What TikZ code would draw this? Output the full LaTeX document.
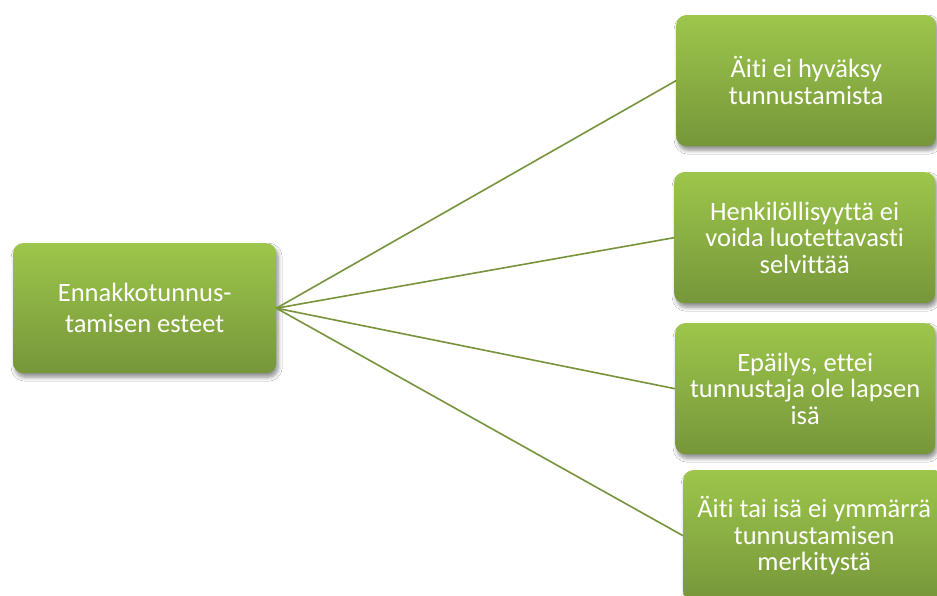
\documentclass[tikz,border=0pt]{standalone}
\usepackage{fontspec}
\setmainfont{Carlito}[Ligatures={NoCommon}]
\usetikzlibrary{shadows.blur}
\definecolor{gtop}{HTML}{9DC64B}
\definecolor{gbot}{HTML}{76963A}
\definecolor{lin}{HTML}{77933C}
\tikzset{
  box/.style={rounded corners=10pt, top color=gtop, bottom color=gbot, draw=none,
    minimum width=262pt, minimum height=131pt, inner sep=0pt, anchor=north west,
    text=white, align=center,
    blur shadow={shadow xshift=2pt, shadow yshift=-4pt, shadow blur steps=6, shadow opacity=45, shadow blur radius=4pt}},
  rtext/.style={font=\fontsize{26.5}{26.7}\selectfont},
  ltext/.style={font=\fontsize{26.5}{31}\selectfont},
  conn/.style={draw=lin, line width=1.6pt}
}
\begin{document}
\begin{tikzpicture}[x=1pt,y=-1pt]
\clip (0,0) rectangle (937,596);
\fill[white] (0,0) rectangle (937,596);
\node[box, ltext, minimum width=263pt, minimum height=130pt] (L) at (13,243) {Ennakkotunnus-\\tamisen esteet};
\node[box, rtext, minimum width=260pt] (A) at (676,15) {Äiti ei hyväksy\\tunnustamista};
\node[box, rtext, minimum width=261pt] (B) at (674,172) {Henkilöllisyyttä ei\\voida luotettavasti\\selvittää};
\node[box, rtext, minimum width=260pt] (C) at (675,323) {Epäilys, ettei\\tunnustaja ole lapsen\\isä};
\node[box, rtext] (D) at (683,470) {Äiti tai isä ei ymmärrä\\tunnustamisen\\merkitystä};
\draw[conn] (L.east) -- (A.west);
\draw[conn] (L.east) -- (B.west);
\draw[conn] (L.east) -- (C.west);
\draw[conn] (L.east) -- (D.west);
\end{tikzpicture}
\end{document}
